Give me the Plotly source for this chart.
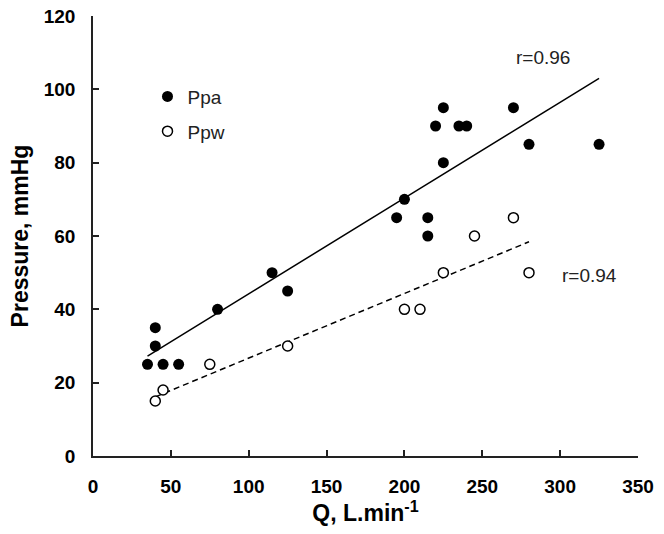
import numpy as np
import plotly.graph_objects as go

# Data
q_ppa = [35, 40, 40, 45, 55, 80, 115, 125, 195, 200, 215, 215, 220, 225, 225, 235, 240, 270, 280, 325]
ppa = [25, 35, 30, 25, 25, 40, 50, 45, 65, 70, 65, 60, 90, 95, 80, 90, 90, 95, 85, 85]
q_ppw = [40, 45, 75, 125, 200, 210, 225, 245, 270, 280]
ppw = [15, 18, 25, 30, 40, 40, 50, 60, 65, 50]
r_labels = ["r=0.96", "r=0.94"]
r_pos_x = [289, 319]
r_pos_y = [108.8, 49.3]
x_ticks = [0, 50, 100, 150, 200, 250, 300, 350]
y_ticks = [0, 20, 40, 60, 80, 100, 120]

FONT = "Liberation Sans, Arial, sans-serif"


def fit_line(x, y):
    m, b = np.polyfit(x, y, 1)
    xs = np.array([min(x), max(x)], dtype=float)
    return xs, m * xs + b


fx1, fy1 = fit_line(q_ppa, ppa)
fx2, fy2 = fit_line(q_ppw, ppw)

fig = go.Figure()
fig.add_trace(go.Scatter(x=fx1, y=fy1, mode="lines", line=dict(color="black", width=1.5),
                         showlegend=False, hoverinfo="skip"))
fig.add_trace(go.Scatter(x=fx2, y=fy2, mode="lines", line=dict(color="black", width=1.5, dash="6px,4px"),
                         showlegend=False, hoverinfo="skip"))
fig.add_trace(go.Scatter(x=q_ppa, y=ppa, mode="markers", name="Ppa", legendgroup="a",
                         marker=dict(symbol="circle", size=11, color="black", line=dict(width=0))))
fig.add_trace(go.Scatter(x=q_ppw, y=ppw, mode="markers", name="Ppw", legendgroup="b",
                         marker=dict(symbol="circle", size=10, color="white",
                                     line=dict(color="black", width=1.5))))

for t, x, y in zip(r_labels, r_pos_x, r_pos_y):
    fig.add_annotation(x=x, y=y, text=t, showarrow=False, xref="x", yref="y",
                       font=dict(family=FONT, size=19, color="#222"))

axis_common = dict(showgrid=False, zeroline=False, showline=True, linecolor="#222", linewidth=1.5,
                   ticks="inside", ticklen=6, tickwidth=1.5, tickcolor="#222", automargin=False,
                   tickfont=dict(family=FONT, size=19, color="black", weight="bold"))

fig.update_xaxes(range=[0, 350], tickvals=x_ticks, ticklabelstandoff=12,
                 title=dict(text="Q, L.min<sup>-1</sup>", standoff=3,
                            font=dict(family=FONT, size=23, color="black", weight="bold")),
                 **axis_common)
fig.update_yaxes(range=[0, 120], tickvals=y_ticks, ticklabelstandoff=12,
                 title=dict(text="Pressure, mmHg", standoff=9,
                            font=dict(family=FONT, size=23, color="black", weight="bold")),
                 **axis_common)

fig.update_layout(
    width=664, height=534,
    margin=dict(l=93, r=26, t=16, b=78, autoexpand=False),
    plot_bgcolor="white", paper_bgcolor="white",
    font=dict(family=FONT, color="black"),
    showlegend=True,
    legend=dict(x=0.1, y=0.86, xanchor="left", yanchor="top", bgcolor="rgba(0,0,0,0)",
                font=dict(family=FONT, size=19, color="#222"), tracegroupgap=7,
                traceorder="grouped", itemwidth=30),
)

# Remove the page's default body margin so the figure fills the window exactly.
fig.write_html("out.html", config={"displayModeBar": False},
               post_script="document.body.style.margin='0';document.body.style.overflow='hidden';")
